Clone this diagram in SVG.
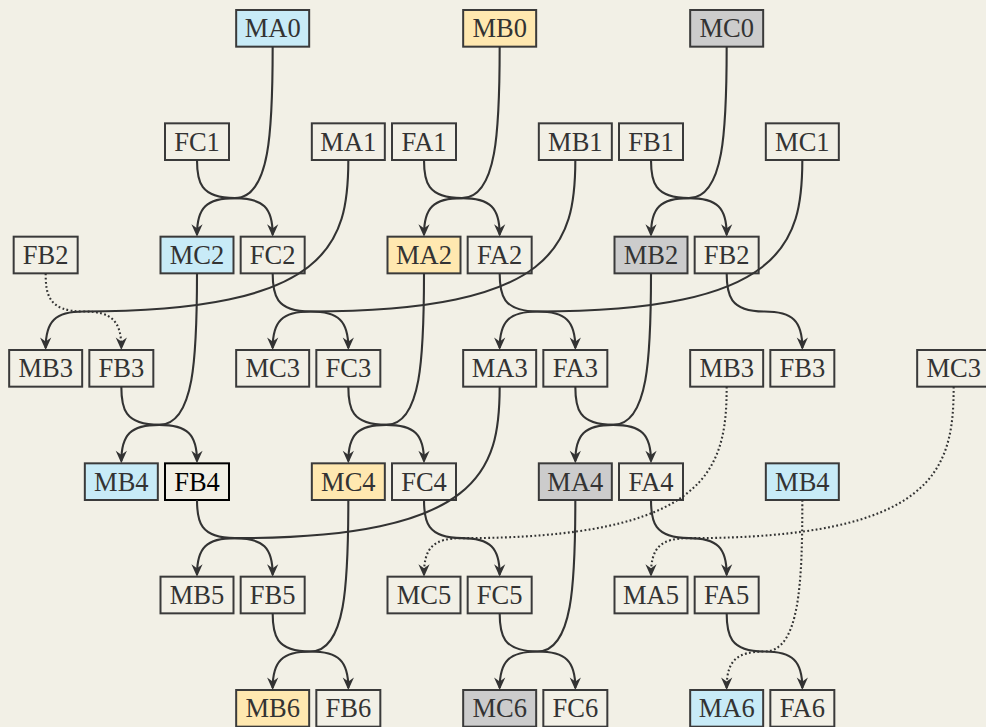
<svg xmlns="http://www.w3.org/2000/svg" width="986" height="727" viewBox="0 0 986 727">
<defs>
<style>
.bx rect{fill:#F2F0E6;stroke:#3a3a3a;stroke-width:2}
.bx text{font-family:"Liberation Serif","Times New Roman",serif;font-size:26.5px;fill:#333;text-anchor:middle}
.blue rect{fill:#C8EBF7}
.yellow rect{fill:#FFE8B0}
.gray rect{fill:#CCCCCC}
.black rect{stroke:#000}
.black text{fill:#000}
.e{fill:none;stroke:#333;stroke-width:2.1;marker-end:url(#ah)}
.d{stroke-dasharray:1.8 2.4}
</style>
<marker id="ah" markerUnits="userSpaceOnUse" markerWidth="18" markerHeight="16" viewBox="-15 -8 18 16" refX="-2" refY="0" orient="auto">
<path d="M0,0 L-12.5,-5.6 L-8.5,0 L-12.5,5.6 Z" fill="#333"/>
</marker>
</defs>
<rect x="0" y="0" width="986" height="727" fill="#F2F0E6"/>
<g id="nodes">
<g id="MA0" class="bx blue"><rect x="236.17" y="10" width="73" height="36.67"/><text x="272.67" y="37.3">MA0</text></g>
<g id="MB0" class="bx yellow"><rect x="463.17" y="10" width="73" height="36.67"/><text x="499.67" y="37.3">MB0</text></g>
<g id="MC0" class="bx gray"><rect x="690.17" y="10" width="73" height="36.67"/><text x="726.67" y="37.3">MC0</text></g>

<g id="FC1" class="bx"><rect x="165" y="123.33" width="64" height="36.67"/><text x="197" y="150.63">FC1</text></g>
<g id="MA1" class="bx"><rect x="311.83" y="123.33" width="73" height="36.67"/><text x="348.33" y="150.63">MA1</text></g>
<g id="FA1" class="bx"><rect x="392" y="123.33" width="64" height="36.67"/><text x="424" y="150.63">FA1</text></g>
<g id="MB1" class="bx"><rect x="538.83" y="123.33" width="73" height="36.67"/><text x="575.33" y="150.63">MB1</text></g>
<g id="FB1" class="bx"><rect x="619" y="123.33" width="64" height="36.67"/><text x="651" y="150.63">FB1</text></g>
<g id="MC1" class="bx"><rect x="765.83" y="123.33" width="73" height="36.67"/><text x="802.33" y="150.63">MC1</text></g>

<g id="FB2-a" class="bx"><rect x="13.67" y="236.67" width="64" height="36.67"/><text x="45.67" y="263.97">FB2</text></g>
<g id="MC2" class="bx blue"><rect x="160.5" y="236.67" width="73" height="36.67"/><text x="197" y="263.97">MC2</text></g>
<g id="FC2" class="bx"><rect x="240.67" y="236.67" width="64" height="36.67"/><text x="272.67" y="263.97">FC2</text></g>
<g id="MA2" class="bx yellow"><rect x="387.5" y="236.67" width="73" height="36.67"/><text x="424" y="263.97">MA2</text></g>
<g id="FA2" class="bx"><rect x="467.67" y="236.67" width="64" height="36.67"/><text x="499.67" y="263.97">FA2</text></g>
<g id="MB2" class="bx gray"><rect x="614.5" y="236.67" width="73" height="36.67"/><text x="651" y="263.97">MB2</text></g>
<g id="FB2-b" class="bx"><rect x="694.67" y="236.67" width="64" height="36.67"/><text x="726.67" y="263.97">FB2</text></g>

<g id="MB3-a" class="bx"><rect x="9.17" y="350" width="73" height="36.67"/><text x="45.67" y="377.3">MB3</text></g>
<g id="FB3-a" class="bx"><rect x="89.33" y="350" width="64" height="36.67"/><text x="121.33" y="377.3">FB3</text></g>
<g id="MC3-a" class="bx"><rect x="236.17" y="350" width="73" height="36.67"/><text x="272.67" y="377.3">MC3</text></g>
<g id="FC3" class="bx"><rect x="316.33" y="350" width="64" height="36.67"/><text x="348.33" y="377.3">FC3</text></g>
<g id="MA3" class="bx"><rect x="463.17" y="350" width="73" height="36.67"/><text x="499.67" y="377.3">MA3</text></g>
<g id="FA3" class="bx"><rect x="543.33" y="350" width="64" height="36.67"/><text x="575.33" y="377.3">FA3</text></g>
<g id="MB3-b" class="bx"><rect x="690.17" y="350" width="73" height="36.67"/><text x="726.67" y="377.3">MB3</text></g>
<g id="FB3-b" class="bx"><rect x="770.33" y="350" width="64" height="36.67"/><text x="802.33" y="377.3">FB3</text></g>
<g id="MC3-b" class="bx"><rect x="917.17" y="350" width="73" height="36.67"/><text x="953.67" y="377.3">MC3</text></g>

<g id="MB4-a" class="bx blue"><rect x="84.83" y="463.33" width="73" height="36.67"/><text x="121.33" y="490.63">MB4</text></g>
<g id="FB4" class="bx black"><rect x="165" y="463.33" width="64" height="36.67"/><text x="197" y="490.63">FB4</text></g>
<g id="MC4" class="bx yellow"><rect x="311.83" y="463.33" width="73" height="36.67"/><text x="348.33" y="490.63">MC4</text></g>
<g id="FC4" class="bx"><rect x="392" y="463.33" width="64" height="36.67"/><text x="424" y="490.63">FC4</text></g>
<g id="MA4" class="bx gray"><rect x="538.83" y="463.33" width="73" height="36.67"/><text x="575.33" y="490.63">MA4</text></g>
<g id="FA4" class="bx"><rect x="619" y="463.33" width="64" height="36.67"/><text x="651" y="490.63">FA4</text></g>
<g id="MB4-b" class="bx blue"><rect x="765.83" y="463.33" width="73" height="36.67"/><text x="802.33" y="490.63">MB4</text></g>

<g id="MB5" class="bx"><rect x="160.5" y="576.67" width="73" height="36.67"/><text x="197" y="603.97">MB5</text></g>
<g id="FB5" class="bx"><rect x="240.67" y="576.67" width="64" height="36.67"/><text x="272.67" y="603.97">FB5</text></g>
<g id="MC5" class="bx"><rect x="387.5" y="576.67" width="73" height="36.67"/><text x="424" y="603.97">MC5</text></g>
<g id="FC5" class="bx"><rect x="467.67" y="576.67" width="64" height="36.67"/><text x="499.67" y="603.97">FC5</text></g>
<g id="MA5" class="bx"><rect x="614.5" y="576.67" width="73" height="36.67"/><text x="651" y="603.97">MA5</text></g>
<g id="FA5" class="bx"><rect x="694.67" y="576.67" width="64" height="36.67"/><text x="726.67" y="603.97">FA5</text></g>

<g id="MB6" class="bx yellow"><rect x="236.17" y="690" width="73" height="36.67"/><text x="272.67" y="717.3">MB6</text></g>
<g id="FB6" class="bx"><rect x="316.33" y="690" width="64" height="36.67"/><text x="348.33" y="717.3">FB6</text></g>
<g id="MC6" class="bx gray"><rect x="463.17" y="690" width="73" height="36.67"/><text x="499.67" y="717.3">MC6</text></g>
<g id="FC6" class="bx"><rect x="543.33" y="690" width="64" height="36.67"/><text x="575.33" y="717.3">FC6</text></g>
<g id="MA6" class="bx blue"><rect x="690.17" y="690" width="73" height="36.67"/><text x="726.67" y="717.3">MA6</text></g>
<g id="FA6" class="bx"><rect x="770.33" y="690" width="64" height="36.67"/><text x="802.33" y="717.3">FA6</text></g>
</g>
<g id="connectors">
<path class="e" d="M272.67,46.67 C272.67,129.97 270.02,198.17 234.83,198.17 C206.46,198.17 197,207.77 197,234.67"/>
<path class="e" d="M197,160 C197,181 199.65,198.17 234.84,198.17 C263.21,198.17 272.67,207.77 272.67,234.67"/>
<path class="e" d="M499.67,46.67 C499.67,129.97 497.02,198.17 461.83,198.17 C433.46,198.17 424,207.77 424,234.67"/>
<path class="e" d="M424,160 C424,181 426.65,198.17 461.84,198.17 C490.21,198.17 499.67,207.77 499.67,234.67"/>
<path class="e" d="M726.67,46.67 C726.67,129.97 724.02,198.17 688.83,198.17 C660.46,198.17 651,207.77 651,234.67"/>
<path class="e" d="M651,160 C651,181 653.65,198.17 688.84,198.17 C717.21,198.17 726.67,207.77 726.67,234.67"/>
<path class="e" d="M348.33,160 C348.33,243.3 329.8,311.5 83.5,311.5 C55.13,311.5 45.67,321.1 45.67,348"/>
<path class="e" d="M575.33,160 C575.33,243.3 556.8,311.5 310.5,311.5 C282.13,311.5 272.67,321.1 272.67,348"/>
<path class="e" d="M802.33,160 C802.33,243.3 783.8,311.5 537.5,311.5 C509.13,311.5 499.67,321.1 499.67,348"/>
<path class="e" d="M272.67,273.33 C272.67,294.33 275.31,311.5 310.5,311.5 C338.87,311.5 348.33,321.1 348.33,348"/>
<path class="e" d="M499.67,273.33 C499.67,294.33 502.31,311.5 537.5,311.5 C565.87,311.5 575.33,321.1 575.33,348"/>
<path class="e" d="M726.67,273.33 C726.67,294.33 729.31,311.5 764.5,311.5 C792.87,311.5 802.33,321.1 802.33,348"/>
<path class="e d" d="M45.67,273.33 C45.67,294.33 48.31,311.5 83.5,311.5 C111.87,311.5 121.33,321.1 121.33,348"/>
<path class="e" d="M197,273.33 C197,356.63 194.35,424.83 159.16,424.83 C130.79,424.83 121.33,434.43 121.33,461.33"/>
<path class="e" d="M121.33,386.67 C121.33,407.67 123.98,424.83 159.17,424.83 C187.54,424.83 197,434.43 197,461.33"/>
<path class="e" d="M424,273.33 C424,356.63 421.35,424.83 386.16,424.83 C357.79,424.83 348.33,434.43 348.33,461.33"/>
<path class="e" d="M348.33,386.67 C348.33,407.67 350.98,424.83 386.17,424.83 C414.54,424.83 424,434.43 424,461.33"/>
<path class="e" d="M651,273.33 C651,356.63 648.35,424.83 613.16,424.83 C584.79,424.83 575.33,434.43 575.33,461.33"/>
<path class="e" d="M575.33,386.67 C575.33,407.67 577.98,424.83 613.17,424.83 C641.54,424.83 651,434.43 651,461.33"/>
<path class="e" d="M499.67,386.67 C499.67,469.97 481.1,538.17 234.83,538.17 C206.46,538.17 197,547.77 197,574.67"/>
<path class="e" d="M197,500 C197,521 199.65,538.17 234.84,538.17 C263.21,538.17 272.67,547.77 272.67,574.67"/>
<path class="e d" d="M726.67,386.67 C726.67,469.97 708.13,538.17 461.83,538.17 C433.46,538.17 424,547.77 424,574.67"/>
<path class="e" d="M424,500 C424,521 426.65,538.17 461.84,538.17 C490.21,538.17 499.67,547.77 499.67,574.67"/>
<path class="e d" d="M953.67,386.67 C953.67,469.97 935.13,538.17 688.83,538.17 C660.46,538.17 651,547.77 651,574.67"/>
<path class="e" d="M651,500 C651,521 653.65,538.17 688.84,538.17 C717.21,538.17 726.67,547.77 726.67,574.67"/>
<path class="e" d="M348.33,500 C348.33,583.3 345.69,651.5 310.5,651.5 C282.13,651.5 272.67,661.1 272.67,688"/>
<path class="e" d="M272.67,613.33 C272.67,634.33 275.31,651.5 310.5,651.5 C338.87,651.5 348.33,661.1 348.33,688"/>
<path class="e" d="M575.33,500 C575.33,583.3 572.69,651.5 537.5,651.5 C509.13,651.5 499.67,661.1 499.67,688"/>
<path class="e" d="M499.67,613.33 C499.67,634.33 502.31,651.5 537.5,651.5 C565.87,651.5 575.33,661.1 575.33,688"/>
<path class="e d" d="M802.33,500 C802.33,583.3 799.69,651.5 764.5,651.5 C736.13,651.5 726.67,661.1 726.67,688"/>
<path class="e" d="M726.67,613.33 C726.67,634.33 729.31,651.5 764.5,651.5 C792.87,651.5 802.33,661.1 802.33,688"/>
</g>
</svg>
